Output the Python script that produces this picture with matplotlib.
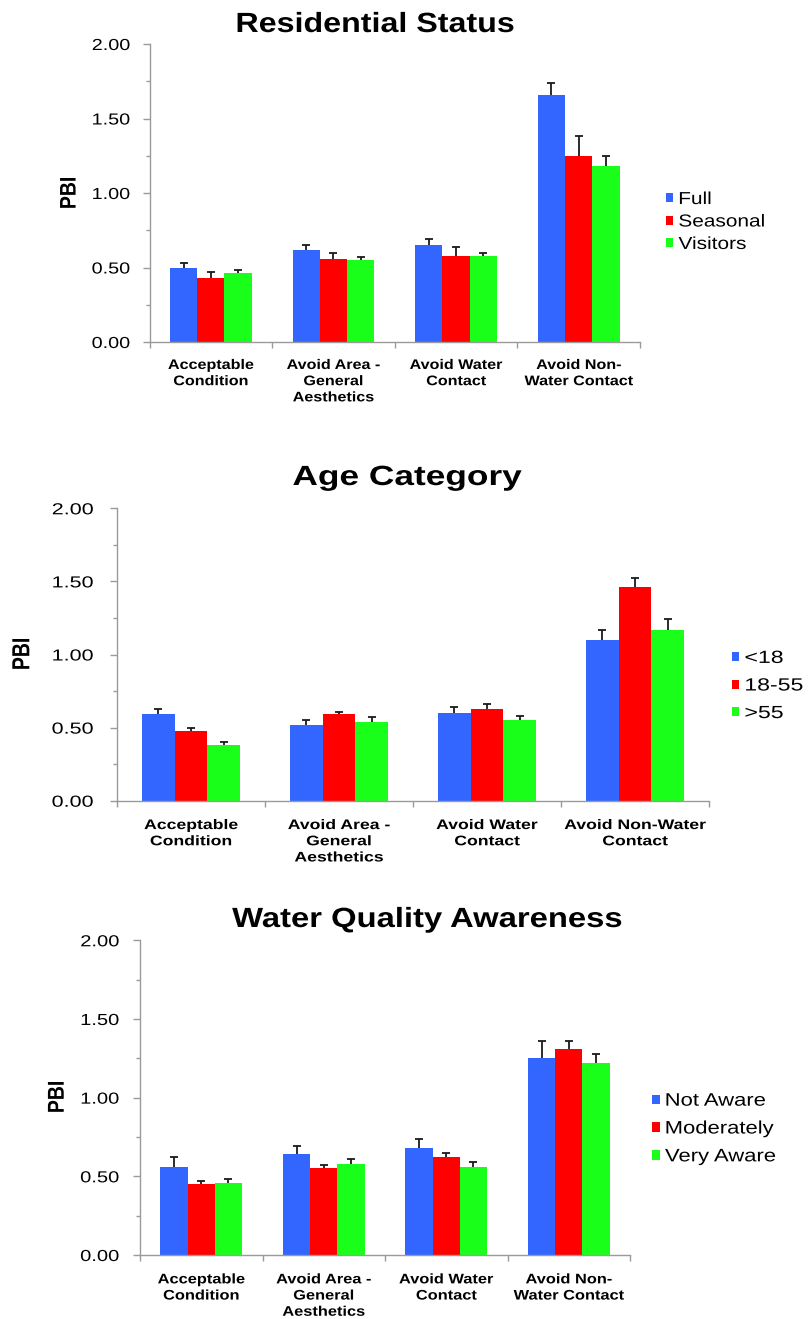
import matplotlib
matplotlib.use("Agg")
import matplotlib.pyplot as plt
import numpy as np
from matplotlib.patheffects import AbstractPathEffect
from matplotlib.transforms import Affine2D
from matplotlib.ticker import MultipleLocator

plt.rcParams["font.family"] = ["Liberation Sans", "DejaVu Sans"]

# ---- data -------------------------------------------------------------
categories_a = ["Acceptable\nCondition", "Avoid Area -\nGeneral\nAesthetics",
                "Avoid Water\nContact", "Avoid Non-\nWater Contact"]
categories_b = ["Acceptable\nCondition", "Avoid Area -\nGeneral\nAesthetics",
                "Avoid Water\nContact", "Avoid Non-Water\nContact"]

residential_groups = ["Full", "Seasonal", "Visitors"]
residential_pbi = [[0.50, 0.62, 0.65, 1.66],
                   [0.43, 0.56, 0.58, 1.25],
                   [0.46, 0.55, 0.58, 1.18]]
residential_err = [[0.03, 0.03, 0.04, 0.08],
                   [0.04, 0.04, 0.06, 0.13],
                   [0.02, 0.02, 0.02, 0.07]]

age_groups = ["<18", "18-55", ">55"]
age_pbi = [[0.59, 0.52, 0.60, 1.10],
           [0.48, 0.59, 0.63, 1.46],
           [0.38, 0.54, 0.55, 1.17]]
age_err = [[0.04, 0.03, 0.04, 0.07],
           [0.02, 0.02, 0.03, 0.06],
           [0.02, 0.03, 0.03, 0.07]]

awareness_groups = ["Not Aware", "Moderately", "Very Aware"]
awareness_pbi = [[0.56, 0.64, 0.68, 1.25],
                 [0.45, 0.55, 0.62, 1.31],
                 [0.46, 0.58, 0.56, 1.22]]
awareness_err = [[0.06, 0.05, 0.06, 0.11],
                 [0.02, 0.02, 0.03, 0.05],
                 [0.02, 0.03, 0.03, 0.06]]

yticks = [0.0, 0.5, 1.0, 1.5, 2.0]
ytick_labels = ["0.00", "0.50", "1.00", "1.50", "2.00"]

COLORS = ["#3366FF", "#FF0000", "#1AFF1A"]
AXIS_GREY = "#9a9a9a"

W, H = 809, 1319
fig = plt.figure(figsize=(W / 100, H / 100), dpi=100)
fig.patch.set_facecolor("white")


class Widen(AbstractPathEffect):
    """Stretch glyph outlines horizontally around a chosen anchor."""

    def __init__(self, factor, anchor="center"):
        super().__init__()
        self.factor = factor
        self.anchor = anchor

    def draw_path(self, renderer, gc, tpath, affine, rgbFace=None):
        ext = tpath.get_extents(affine)
        x0 = {"left": ext.x0, "right": ext.x1,
              "center": 0.5 * (ext.x0 + ext.x1)}[self.anchor]
        widen = Affine2D().translate(-x0, 0).scale(self.factor, 1).translate(x0, 0)
        renderer.draw_path(gc, tpath, affine + widen, rgbFace)


def px_rect(left, right, top, bottom):
    return [left / W, 1 - bottom / H, (right - left) / W, (bottom - top) / H]


def draw_panel(title, cats, groups, vals, errs, box, title_xy, ylab_xy,
               leg_xy, ytick_pad, cat_pad, leg_size, labelspacing, sx):
    ax = fig.add_axes(px_rect(*box))
    x = np.arange(len(cats))
    w = 0.222
    for i, (g, v, e, c) in enumerate(zip(groups, vals, errs, COLORS)):
        bars = ax.bar(x + (i - 1) * w, v, w, color=c, label=g, zorder=2,
                      yerr=[np.zeros(len(e)), e],
                      error_kw=dict(ecolor="#1a1a1a", elinewidth=1.3,
                                    capsize=3, capthick=1.3, zorder=3))
        # only the upper half of each error bar is shown
        bars.errorbar.lines[1][0].set_visible(False)

    ax.set_xlim(-0.5, len(cats) - 0.5)
    ax.set_ylim(0, 2)
    for s in ("top", "right"):
        ax.spines[s].set_visible(False)
    for s in ("left", "bottom"):
        ax.spines[s].set_color(AXIS_GREY)
        ax.spines[s].set_linewidth(1.0)

    ax.set_yticks(yticks, ytick_labels)
    ax.yaxis.set_minor_locator(MultipleLocator(0.25))
    ax.tick_params(axis="y", which="major", length=5, width=1, color=AXIS_GREY,
                   labelsize=11.5, pad=ytick_pad)
    ax.tick_params(axis="y", which="minor", length=3, width=1, color=AXIS_GREY)

    ax.set_xticks(np.arange(len(cats) + 1) - 0.5, [""] * (len(cats) + 1))
    ax.set_xticks(x, cats, minor=True)
    ax.tick_params(axis="x", which="major", length=4, width=1, color=AXIS_GREY)
    ax.tick_params(axis="x", which="minor", length=0, pad=cat_pad,
                   labelsize=10)
    for lbl in ax.get_xticklabels(minor=True):
        lbl.set_fontweight("bold")
        lbl.set_linespacing(1.2)
        lbl.set_path_effects([Widen(sx, "center")])
    for lbl in ax.get_yticklabels():
        lbl.set_path_effects([Widen(sx + 0.08, "right")])

    fig.text(title_xy[0] / W, 1 - title_xy[1] / H, title, ha="center",
             va="baseline", fontsize=20, fontweight="bold",
             path_effects=[Widen(sx, "center")])
    fig.text(ylab_xy[0] / W, 1 - ylab_xy[1] / H, "PBI", ha="center",
             va="center", rotation=90, fontsize=14, fontweight="bold",
             path_effects=[Widen(sx, "center")])

    leg = ax.legend(loc="center left",
                    bbox_to_anchor=(leg_xy[0] / W, 1 - leg_xy[1] / H),
                    bbox_transform=fig.transFigure, frameon=False,
                    fontsize=leg_size, handlelength=0.42, handleheight=0.42,
                    handletextpad=0.3, labelspacing=labelspacing,
                    borderpad=0, borderaxespad=0)
    for t in leg.get_texts():
        t.set_path_effects([Widen(sx + 0.04, "left")])
    return ax


draw_panel("Residential Status", categories_a, residential_groups,
           residential_pbi, residential_err,
           box=(149.5, 640, 44, 342), title_xy=(375, 32), ylab_xy=(70, 193),
           leg_xy=(666, 222), ytick_pad=9, cat_pad=11.5, leg_size=12.5,
           labelspacing=0.43, sx=1.16)

draw_panel("Age Category", categories_b, age_groups, age_pbi, age_err,
           box=(117, 709, 508.3, 800.7), title_xy=(407, 485), ylab_xy=(23, 654),
           leg_xy=(732, 686), ytick_pad=12, cat_pad=12.5, leg_size=12.7,
           labelspacing=0.6, sx=1.27)

draw_panel("Water Quality Awareness", categories_a, awareness_groups,
           awareness_pbi, awareness_err,
           box=(140, 630, 940.3, 1255), title_xy=(427, 927), ylab_xy=(58, 1097),
           leg_xy=(652, 1129), ytick_pad=10, cat_pad=12.5, leg_size=13,
           labelspacing=0.6, sx=1.18)

fig.savefig("out.png", dpi=100, facecolor="white")
